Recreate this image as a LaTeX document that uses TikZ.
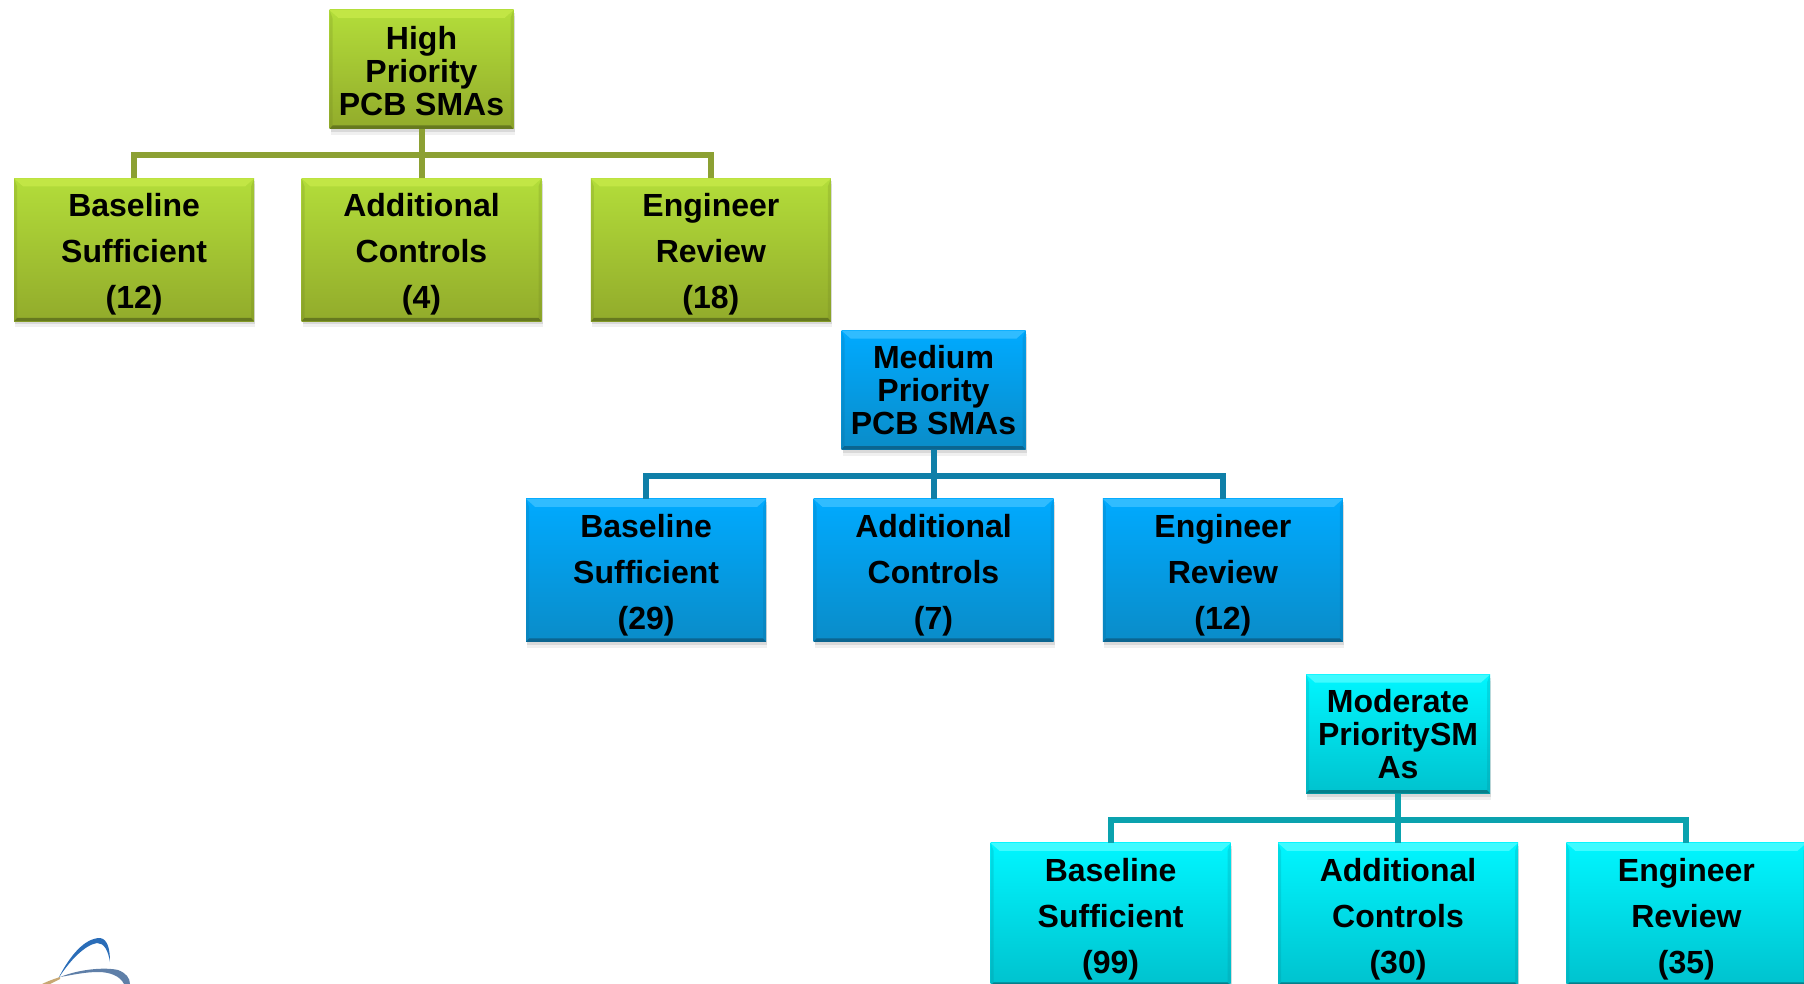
\documentclass[tikz,border=0pt]{standalone}
\usepackage{fontspec}
\setmainfont{Liberation Sans}
\usetikzlibrary{positioning,shadows,calc}

\definecolor{greenlight}{HTML}{C2E645}
\definecolor{greentop}{HTML}{B3DD3A}
\definecolor{greenbot}{HTML}{92AB2B}
\definecolor{greendark}{HTML}{66791F}
\definecolor{greenline}{HTML}{8CA033}
\definecolor{bluelight}{HTML}{30BCFF}
\definecolor{bluetop}{HTML}{00AAFF}
\definecolor{bluebot}{HTML}{0A8CC8}
\definecolor{bluedark}{HTML}{0B6590}
\definecolor{blueline}{HTML}{0F7FA8}
\definecolor{cyanlight}{HTML}{40FAFF}
\definecolor{cyantop}{HTML}{00F6FF}
\definecolor{cyanbot}{HTML}{00C2CE}
\definecolor{cyandark}{HTML}{057F8A}
\definecolor{cyanline}{HTML}{0AA2AE}
\definecolor{logoblue}{HTML}{2A6DB8}
\definecolor{logogrey}{HTML}{5F7FA8}
\definecolor{logotan}{HTML}{C8A873}

\newcommand{\lowerchild}{\rule{0pt}{32pt}}
\newcommand{\lowerhigh}{\rule{0pt}{26pt}}

\tikzset{
  bevel/.style 2 args={path picture={
    \fill [#1] (path picture bounding box.north west) -- (path picture bounding box.north east)
      -- ++(-9pt,-8pt) -- ($(path picture bounding box.north west)+(9pt,-8pt)$) -- cycle;
    \fill [#2] (path picture bounding box.south west) -- (path picture bounding box.south east)
      -- ++(-3pt,3.5pt) -- ($(path picture bounding box.south west)+(3pt,3.5pt)$) -- cycle;
    \fill [#2, opacity=.2] (path picture bounding box.south west) -- (path picture bounding box.north west)
      -- ++(3pt,-8pt) -- ($(path picture bounding box.south west)+(3pt,3.5pt)$) -- cycle;
    \fill [#2, opacity=.2] (path picture bounding box.south east) -- (path picture bounding box.north east)
      -- ++(-3pt,-8pt) -- ($(path picture bounding box.south east)+(-3pt,3.5pt)$) -- cycle;
  }},
}

\begin{document}
\begin{tikzpicture}[x=1pt,y=-1pt]
    \tikzstyle{parent} = [rectangle, inner sep=0pt, minimum width=184pt, minimum height=119pt, align=center,
        font=\fontsize{32}{33}\selectfont\bfseries,
        drop shadow={shadow xshift=1pt, shadow yshift=-3pt, opacity=.2},
        drop shadow={shadow xshift=1pt, shadow yshift=-6pt, opacity=.12}]
    \tikzstyle{child} = [parent, minimum width=240pt, minimum height=143pt,
        font=\fontsize{32}{46}\selectfont\bfseries]
    \tikzstyle{green} = [top color=greentop, bottom color=greenbot, bevel={greenlight}{greendark}]
    \tikzstyle{blue} = [top color=bluetop, bottom color=bluebot, bevel={bluelight}{bluedark}]
    \tikzstyle{cyan} = [top color=cyantop, bottom color=cyanbot, bevel={cyanlight}{cyandark}]
    \tikzstyle{link} = [line width=6pt]

    \useasboundingbox (0,0) rectangle (1804,984);
    \clip (0,0) rectangle (1804,984);

    % high priority
    \node [parent, green] (high) at (421.5,69.5) {\lowerhigh High\\Priority\\PCB SMAs};
    \node [child, green, below=49pt of high] (highadd) {\lowerchild Additional\\Controls\\(4)};
    \node [child, green, left=47pt of highadd] (highbase) {\lowerchild Baseline\\Sufficient\\(12)};
    \node [child, green, right=49pt of highadd] (higheng) {\lowerchild Engineer\\Review\\(18)};
    \draw [link, greenline] (high) -- (highadd);
    \draw [link, greenline] (highbase.north) -- ++(0,-23) -| (higheng.north);

    % medium priority
    \node [parent, blue] (medium) at (933.5,390) {Medium\\Priority\\PCB SMAs};
    \node [child, blue, below=49pt of medium] (medadd) {\lowerchild Additional\\Controls\\(7)};
    \node [child, blue, left=47pt of medadd] (medbase) {\lowerchild Baseline\\Sufficient\\(29)};
    \node [child, blue, right=49pt of medadd] (medeng) {\lowerchild Engineer\\Review\\(12)};
    \draw [link, blueline] (medium) -- (medadd);
    \draw [link, blueline] (medbase.north) -- ++(0,-23) -| (medeng.north);

    % moderate priority
    \node [parent, cyan] (moderate) at (1398,734) {Moderate\\PrioritySM\\As};
    \node [child, cyan, below=49pt of moderate] (modadd) {\lowerchild Additional\\Controls\\(30)};
    \node [child, cyan, left=47pt of modadd] (modbase) {\lowerchild Baseline\\Sufficient\\(99)};
    \node [child, cyan, right=48pt of modadd] (modeng) {\lowerchild Engineer\\Review\\(35)};
    \draw [link, cyanline] (moderate) -- (modadd);
    \draw [link, cyanline] (modbase.north) -- ++(0,-23) -| (modeng.north);

    % logo, cut off by the page
    \fill [logoblue] (58,979) .. controls (70,955) and (85,938) .. (100,938)
        .. controls (108,939) and (110,950) .. (110,962) .. controls (108,950) and (104,943) .. (97,943)
        .. controls (85,945) and (70,960) .. (58,979) -- cycle;
    \fill [logogrey] (60,977) .. controls (80,969) and (105,967) .. (118,970)
        .. controls (126,973) and (130,978) .. (130,984) -- (124,984) .. controls (120,976) and (110,972) .. (98,972)
        .. controls (85,972) and (72,975) .. (60,977) -- cycle;
    \fill [logotan] (42,984) .. controls (48,981) and (54,979) .. (60,977) -- (60,979) .. controls (56,981) and (52,983) .. (50,984) -- cycle;
\end{tikzpicture}
\end{document}
